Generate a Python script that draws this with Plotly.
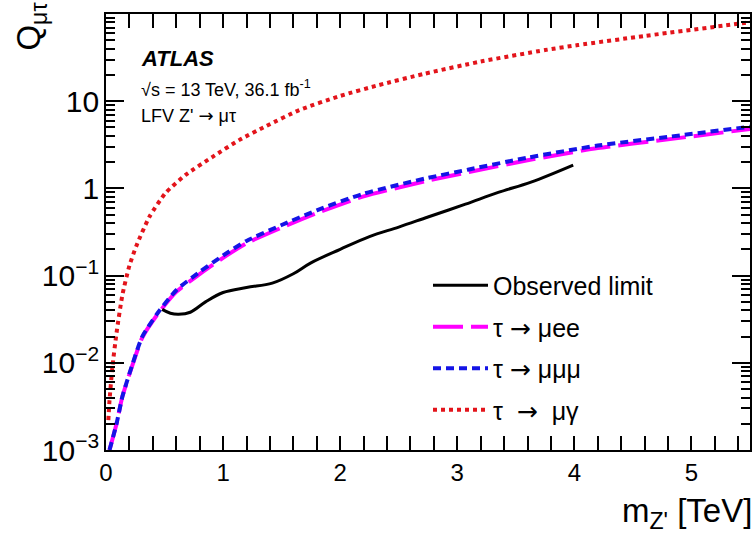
import plotly.graph_objects as go

# ---- data ----
obs_m = [0.48, 0.55, 0.62, 0.72, 0.85, 1.0, 1.2, 1.42, 1.6, 1.75, 2.0, 2.25, 2.5, 2.75, 3.07, 3.35, 3.63, 3.99]
obs_q = [0.041, 0.037, 0.036, 0.038, 0.05, 0.064, 0.073, 0.082, 0.105, 0.14, 0.2, 0.28, 0.36, 0.47, 0.66, 0.9, 1.18, 1.85]

mumumu_m = [0.03, 0.09, 0.14, 0.23, 0.31, 0.44, 0.6, 0.8, 1.0, 1.2, 1.5, 1.8, 2.2, 2.75, 3.1, 3.6, 4.2, 4.8, 5.5]
mumumu_q = [0.001, 0.002, 0.0041, 0.01, 0.02, 0.037, 0.068, 0.11, 0.17, 0.25, 0.38, 0.56, 0.87, 1.32, 1.65, 2.25, 3.1, 3.9, 5.1]

muee_m = [0.03, 0.09, 0.14, 0.23, 0.31, 0.44, 0.6, 0.8, 1.0, 1.2, 1.5, 1.8, 2.2, 2.75, 3.1, 3.6, 4.2, 4.8, 5.5]
muee_q = [0.001, 0.002, 0.0041, 0.0098, 0.0195, 0.036, 0.065, 0.104, 0.16, 0.235, 0.355, 0.52, 0.81, 1.23, 1.54, 2.1, 2.9, 3.65, 4.8]

mugamma_m = [0.02, 0.03, 0.055, 0.09, 0.14, 0.2, 0.26, 0.37, 0.51, 0.68, 0.91, 1.14, 1.37, 1.65, 2.0, 2.33, 2.71, 3.2, 3.75, 4.03, 4.6, 5.45, 5.5]
mugamma_q = [0.0022, 0.0037, 0.009, 0.022, 0.06, 0.13, 0.22, 0.47, 0.89, 1.43, 2.3, 3.6, 5.2, 7.9, 11.5, 15.3, 20.5, 28.5, 38.6, 44, 56, 79, 81]

FONT = "Liberation Sans, Arial, sans-serif"
ARROW = '<span style="font-family:DejaVu Sans">→</span>'

# minor tick positions on the log axis (2..9 in each decade)
minor_y = [k * 10.0 ** e for e in range(-3, 2) for k in range(2, 10)]

fig = go.Figure()

fig.add_trace(go.Scatter(
    x=mugamma_m, y=mugamma_q, mode="lines", name=f"τ  {ARROW}  μγ",
    line=dict(color="#e3141b", width=4, dash="4px,4px", shape="spline", smoothing=0.6),
    legendrank=4, legendgroup="d"))
fig.add_trace(go.Scatter(
    x=muee_m, y=muee_q, mode="lines", name=f"τ {ARROW} μee",
    line=dict(color="#ff00ff", width=4, dash="30px,8px", shape="spline", smoothing=0.6),
    legendrank=2, legendgroup="b"))
fig.add_trace(go.Scatter(
    x=mumumu_m, y=mumumu_q, mode="lines", name=f"τ {ARROW} μμμ",
    line=dict(color="#1414e6", width=4, dash="8px,5px", shape="spline", smoothing=0.6),
    legendrank=3, legendgroup="c"))
fig.add_trace(go.Scatter(
    x=obs_m, y=obs_q, mode="lines", name="Observed limit",
    line=dict(color="black", width=3, shape="spline"),
    legendrank=1, legendgroup="a"))
# empty trace so the overlaying minor-tick axis is drawn
fig.add_trace(go.Scatter(x=[None], y=[None], yaxis="y2", showlegend=False,
                         hoverinfo="skip", mode="lines"))

fig.update_layout(
    width=753, height=536,
    margin=dict(l=106, r=1, t=14, b=86),
    paper_bgcolor="white", plot_bgcolor="white",
    font=dict(family=FONT, color="black"),
    showlegend=True,
    legend=dict(
        x=0.5, y=0.43, xanchor="left", yanchor="top",
        bgcolor="rgba(0,0,0,0)", font=dict(size=25, family=FONT),
        itemwidth=55, tracegroupgap=6, traceorder="grouped",
    ),
    xaxis=dict(
        range=[0, 5.5], dtick=1, tick0=0,
        ticks="inside", ticklen=14, tickwidth=2, tickcolor="#000000",
        minor=dict(ticks="inside", ticklen=7, dtick=0.2, tickwidth=1.5, tickcolor="#000000", showgrid=False),
        showline=True, linewidth=2, linecolor="black", mirror="allticks",
        showgrid=False, zeroline=False,
        tickfont=dict(size=24, family=FONT),
    ),
    yaxis=dict(
        type="log", range=[-3, 2],
        tickmode="linear", tick0=0, dtick=1, exponentformat="power",
        ticks="inside", ticklen=18, tickwidth=2, tickcolor="#000000",
        showline=True, linewidth=2, linecolor="black", mirror="allticks",
        showgrid=False, zeroline=False,
        tickfont=dict(size=24, family=FONT),
    ),
    yaxis2=dict(
        type="log", range=[-3, 2], overlaying="y", side="left",
        tickmode="array", tickvals=minor_y, showticklabels=False,
        ticks="inside", ticklen=9, tickwidth=1.5, tickcolor="#000000",
        showline=False, mirror="ticks", showgrid=False, zeroline=False,
    ),
    annotations=[
        dict(text="<b><i>ATLAS</i></b>", xref="paper", yref="paper", x=0.052, y=0.899,
             xanchor="left", yanchor="middle", showarrow=False, font=dict(size=22, family=FONT)),
        dict(text="√s = 13 TeV, 36.1 fb<sup>-1</sup>", xref="paper", yref="paper", x=0.052, y=0.828,
             xanchor="left", yanchor="middle", showarrow=False, font=dict(size=18, family=FONT)),
        dict(text=f"LFV Z' {ARROW} μτ", xref="paper", yref="paper", x=0.052, y=0.768,
             xanchor="left", yanchor="middle", showarrow=False, font=dict(size=18, family=FONT)),
        dict(text="Q<sub>μτ</sub>", xref="paper", yref="paper", x=-0.117, y=1.03,
             xanchor="center", yanchor="top", textangle=-90, showarrow=False,
             font=dict(size=33, family=FONT)),
        dict(text="m<sub>Z'</sub> [TeV]", xref="paper", yref="paper", x=1.006, y=-0.145,
             xanchor="right", yanchor="middle", showarrow=False, font=dict(size=33, family=FONT)),
    ],
)

fig.write_html("out.html")
